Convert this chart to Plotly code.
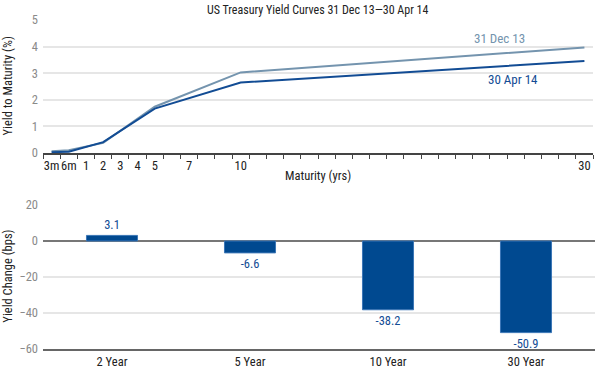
import plotly.graph_objects as go
from plotly.subplots import make_subplots

# ---- data ----
maturities = ["3m", "6m", "2", "5", "10", "30"]
yield_dec13 = [0.07, 0.10, 0.38, 1.74, 3.03, 3.97]
yield_apr14 = [0.03, 0.05, 0.41, 1.67, 2.65, 3.46]
tick_labels = ["3m", "6m", "1", "2", "3", "4", "5", "7", "10", "30"]

change_cats = ["2 Year", "5 Year", "10 Year", "30 Year"]
change_bps = [3.1, -6.6, -38.2, -50.9]

# maturity label -> axis slot (3m, 6m, 1, 2, ... 30 are evenly spaced slots)
def slot(label):
    if label == "3m":
        return 0
    if label == "6m":
        return 1
    return int(label) + 1

FONT = "Roboto Condensed, Liberation Sans Narrow, sans-serif"
C_DEC = "#7494ae"
C_APR = "#124c94"
C_BAR = "#004990"

fig = make_subplots(rows=2, cols=1)

fig.add_trace(go.Scatter(x=[slot(m) for m in maturities], y=yield_dec13, mode="lines",
                         line=dict(color=C_DEC, width=2), name="31 Dec 13",
                         showlegend=False), row=1, col=1)
fig.add_trace(go.Scatter(x=[slot(m) for m in maturities], y=yield_apr14, mode="lines",
                         line=dict(color=C_APR, width=2), name="30 Apr 14",
                         showlegend=False), row=1, col=1)

fig.add_trace(go.Bar(x=change_cats, y=change_bps, marker=dict(color=C_BAR, line=dict(color="#3b76b6", width=1)),
                     text=[f"{v:.1f}" for v in change_bps], textposition="outside",
                     textfont=dict(color=C_APR, size=12.5, family=FONT),
                     cliponaxis=False, showlegend=False), row=2, col=1)

fig.update_layout(
    width=600, height=372,
    margin=dict(l=43, r=5, t=20, b=23, autoexpand=False),
    paper_bgcolor="white", plot_bgcolor="white",
    font=dict(family=FONT, size=12, color="#222"),
    bargap=0.63,
    showlegend=False,
)

# top axes
fig.update_xaxes(row=1, col=1, domain=[0, 0.9964], range=[-0.5, 31.5], automargin=False,
                 tickvals=[slot(t) for t in tick_labels], ticktext=tick_labels,
                 ticks="", tickangle=0, showgrid=False, zeroline=False,
                 showline=True, linecolor="#444", linewidth=1.5,
                 tickfont=dict(size=12.5, color="#222"),
                 minor=dict(ticks="outside", ticklen=4, tickcolor="#444", tick0=0.5, dtick=1, showgrid=False))
fig.update_yaxes(row=1, col=1, domain=[0.5957, 1.0], range=[0, 5], dtick=1, automargin=False,
                 showgrid=True, gridcolor="#e6e6e6", gridwidth=1.5, zeroline=False,
                 showline=False, ticks="", tickfont=dict(size=12.5, color="#8a8a8a"),
                 ticklabelstandoff=4)

# bottom axes
fig.update_xaxes(row=2, col=1, domain=[0, 1], showgrid=False, ticks="", tickangle=0, automargin=False,
                 showline=True, linecolor="#666", linewidth=2,
                 tickfont=dict(size=12.5, color="#222"), ticklabelstandoff=0)
fig.update_yaxes(row=2, col=1, domain=[0, 0.4377], range=[-60, 20], dtick=20, automargin=False,
                 showgrid=True, gridcolor="#e6e6e6", gridwidth=1.5,
                 zeroline=True, zerolinecolor="#777", zerolinewidth=1.5,
                 showline=False, ticks="", tickfont=dict(size=12.5, color="#8a8a8a"),
                 ticklabelstandoff=4)

annots = [
    dict(text="US Treasury Yield Curves 31 Dec 13\u201430 Apr 14", xref="paper", yref="paper",
         x=0.498, y=1.030, showarrow=False, font=dict(size=12, color="#222"), yanchor="middle"),
    dict(text="Maturity (yrs)", xref="paper", yref="paper", x=0.498, y=0.526,
         showarrow=False, font=dict(size=12.5, color="#222"), yanchor="middle"),
    dict(text="Yield to Maturity (%)", xref="paper", yref="paper", x=-0.064, y=0.800,
         textangle=-90, showarrow=False, font=dict(size=12.5, color="#222"), xanchor="center", yanchor="middle"),
    dict(text="Yield Change (bps)", xref="paper", yref="paper", x=-0.064, y=0.222,
         textangle=-90, showarrow=False, font=dict(size=12.5, color="#222"), xanchor="center", yanchor="middle"),
    dict(text="31 Dec 13", xref="x", yref="y", x=26.05, y=4.29, showarrow=False,
         font=dict(size=13, color=C_DEC)),
    dict(text="30 Apr 14", xref="x", yref="y", x=26.86, y=2.78, showarrow=False,
         font=dict(size=13, color=C_APR)),
]
fig.update_layout(annotations=annots)

fig.write_html("out.html", config={"displayModeBar": False},
               post_script="document.body.style.margin='0';")
